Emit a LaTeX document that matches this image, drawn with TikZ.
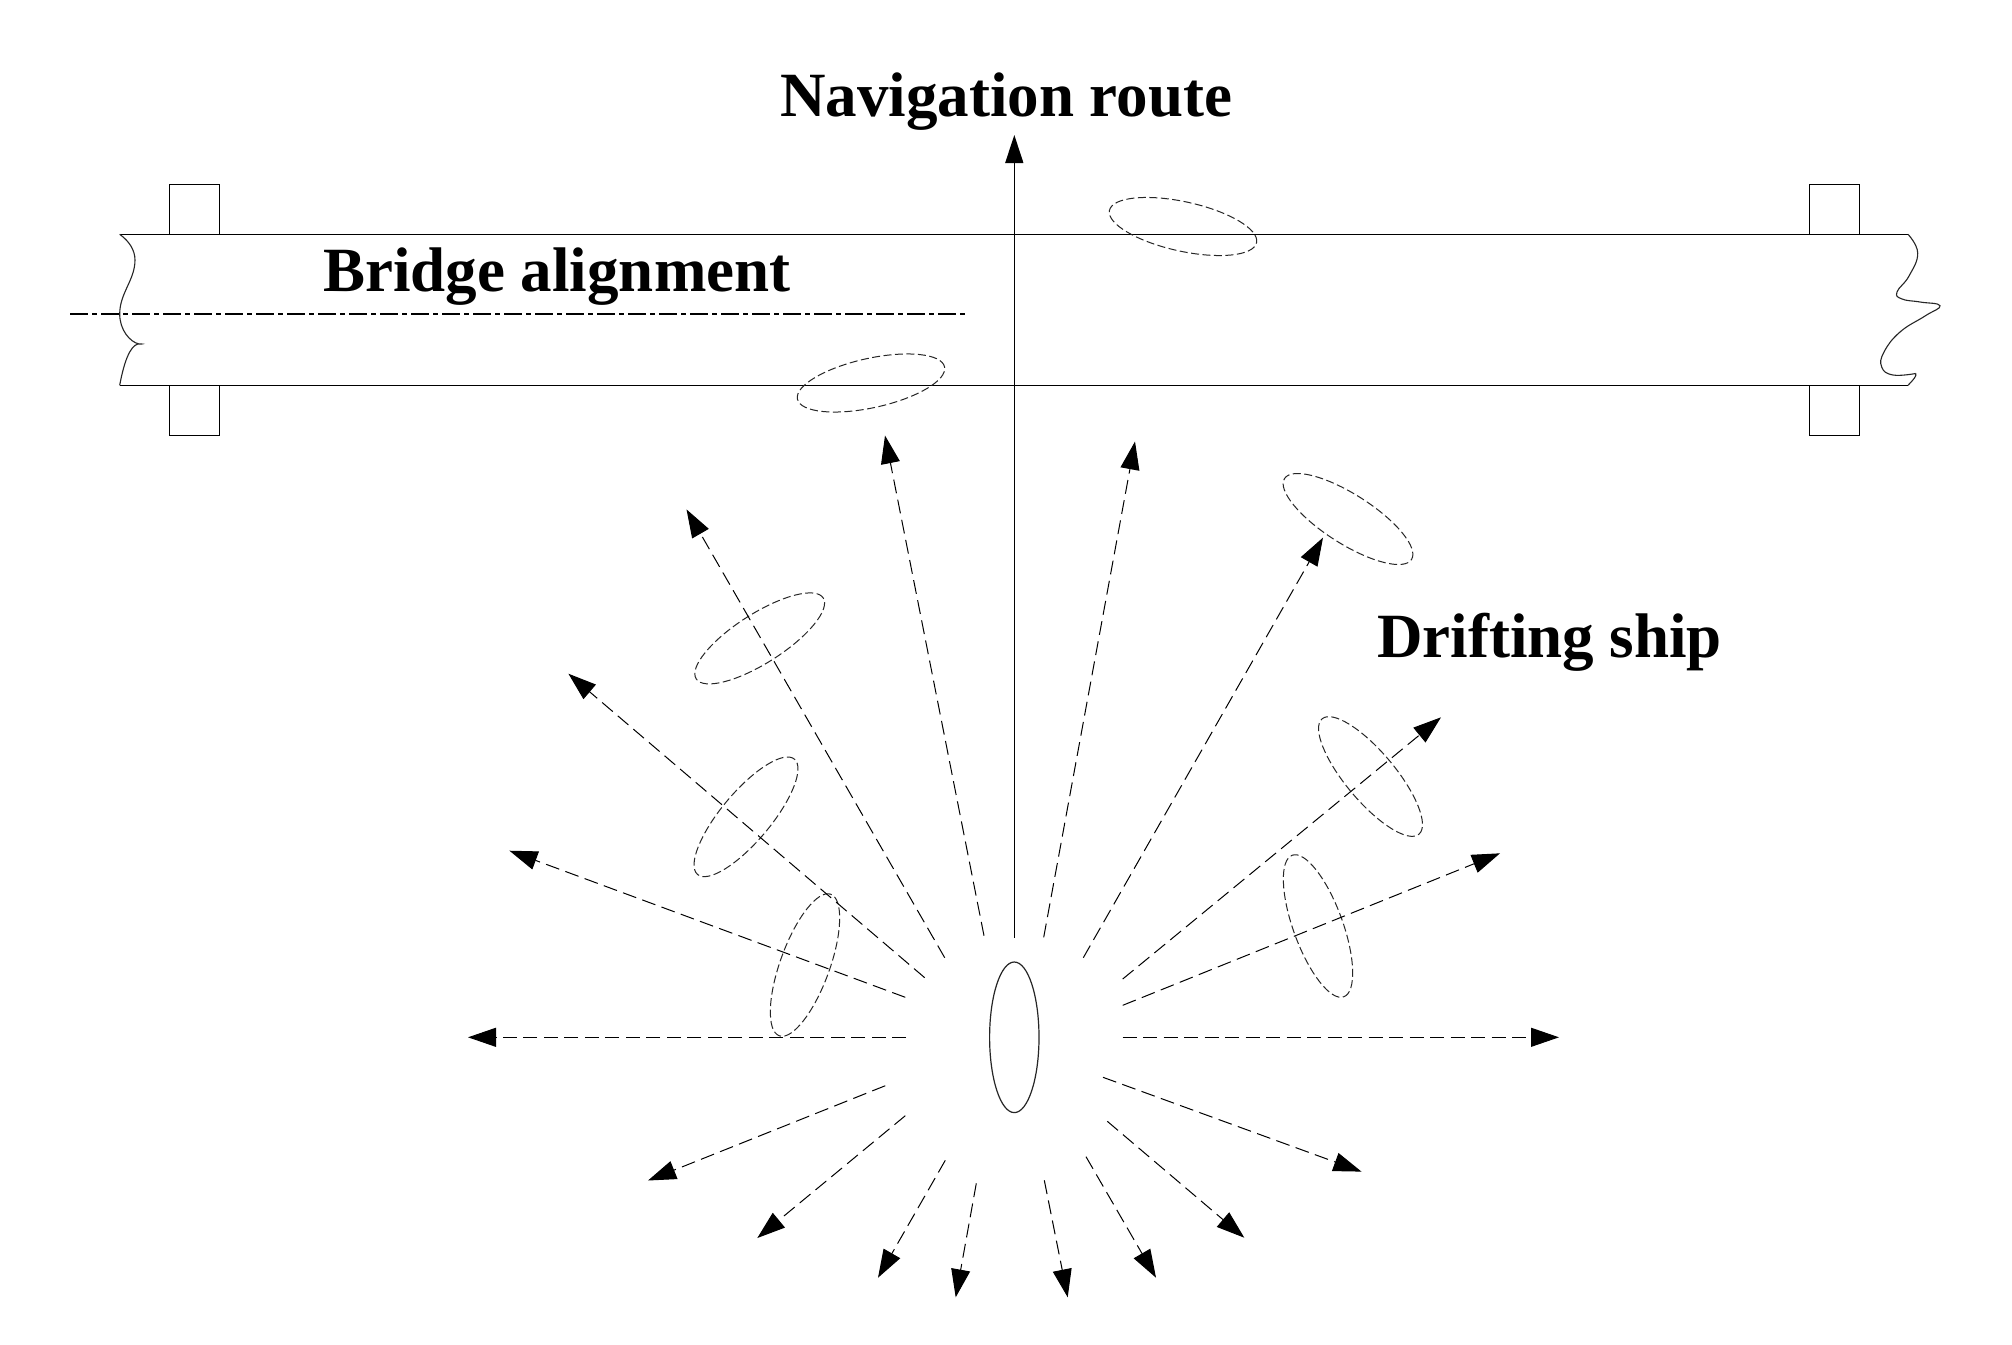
\documentclass[tikz,border=0pt]{standalone}
\usepackage{fontspec}
\setmainfont{Liberation Serif}
\usetikzlibrary{arrows.meta,shapes.geometric}
\tikzset{
  lbl/.style={font=\bfseries\fontsize{63}{70}\selectfont,anchor=base west,inner sep=0pt,text=black},
  bridgeline/.style={line width=1.3pt,draw=black},
  pier/.style={line width=1.3pt,draw=black},
  breakline/.style={line width=1.1pt,draw=black!85,smooth,tension=0.75},
  axisline/.style={line width=1.1pt,draw=black,dash pattern=on 18pt off 4pt on 5pt off 4pt},
  route/.style={line width=1.3pt,draw=black,-{Triangle[length=28pt,width=18pt]}},
  drift/.style={line width=1pt,draw=black,dash pattern=on 14pt off 6.5pt,-{Triangle[length=28pt,width=19pt]}},
  ship/.style={ellipse,draw=black!85,line width=1.2pt,inner sep=0pt,minimum width=150.6pt,minimum height=49.4pt},
  ghost/.style={ship,draw=black!85,line width=1pt,dash pattern=on 8pt off 3.5pt},
}
\begin{document}
\begin{tikzpicture}[x=1pt,y=-1pt]
\useasboundingbox (0,0) rectangle (2012,1344);
\fill[white] (0,0) rectangle (2012,1344);
% bridge
\coordinate (tl) at (119.7,234.3);
\coordinate (tr) at (1908,234.3);
\coordinate (bl) at (119.7,385.3);
\coordinate (br) at (1908,385.3);
\draw[bridgeline] (tl) -- (tr);
\draw[bridgeline] (bl) -- (br);
\draw[pier] (169.3,234.3) -- (169.3,184.3) -- (219.3,184.3) -- (219.3,234.3);
\draw[pier] (1809.3,234.3) -- (1809.3,184.3) -- (1859.3,184.3) -- (1859.3,234.3);
\draw[pier] (169.3,385.3) -- (169.3,435.3) -- (219.3,435.3) -- (219.3,385.3);
\draw[pier] (1809.3,385.3) -- (1809.3,435.3) -- (1859.3,435.3) -- (1859.3,385.3);
% broken ends
\draw[line width=1.1pt,draw=black!85] (tl) .. controls (129,241) and (135,250) .. (135,260)
  .. controls (135,280) and (119.7,293) .. (119.7,314)
  .. controls (119.7,330) and (130,342) .. (139,344)
  .. controls (143,344.5) and (143,343.5) .. (138,344)
  .. controls (130,346) and (124,362) .. (bl);
\draw[breakline] plot coordinates {(1908,234.3) (1917.7,253) (1909,276) (1897,292) (1902,299) (1920,302) (1940,305.7) (1925,316) (1900,332) (1884,352) (1881.7,367) (1893,375) (1915.7,373.5)};
\draw[line width=1.1pt,draw=black!85] (1915.7,373.5) .. controls (1917,376) and (1913,380) .. (br);
\coordinate (axisL) at (70,314);
\coordinate (axisR) at (965,314);
\draw[axisline] (axisL) -- (axisR);
% labels
\node[lbl] (navlabel) at (780,116) {Navigation route};
\node[lbl] (bridgelabel) at (323,291) {Bridge alignment};
\node[lbl] (driftlabel) at (1377,657) {Drifting ship};
% central ship
\node[ship,rotate=90] (s0) at (1014.3,1037.3) {};
% ghost ships
\node[ghost,rotate=-12.4] (g1) at (1183,226.5) {};
\node[ghost,rotate=12.4] (g2) at (871,383) {};
\node[ghost,rotate=-32.5] (g3) at (1348,519) {};
\node[ghost,rotate=32.5] (g4) at (759.7,638.4) {};
\node[ghost,rotate=50] (g5) at (746,816.8) {};
\node[ghost,rotate=70] (g6) at (805,965) {};
\node[ghost,rotate=-50] (g7) at (1370.5,776.5) {};
\node[ghost,rotate=-70] (g8) at (1318,926) {};
% route
\coordinate (r0) at (1014.3,937.7);
\coordinate (r1) at (1014.3,135);
\draw[route] (r0) -- (r1);
% drift start/end coordinates
\coordinate (a1) at (906,1037.3);     \coordinate (b1) at (468,1037.3);
\coordinate (a2) at (1122.7,1037.3);  \coordinate (b2) at (1559,1037.3);
\coordinate (a3) at (905.3,997.3);    \coordinate (b3) at (509.4,850.7);
\coordinate (a4) at (924.7,977.7);    \coordinate (b4) at (568.4,673.7);
\coordinate (a5) at (944.7,957.7);    \coordinate (b5) at (686.5,509.4);
\coordinate (a6) at (984,935.7);      \coordinate (b6) at (885,435.5);
\coordinate (a7) at (1043.7,937.3);   \coordinate (b7) at (1135,441.5);
\coordinate (a8) at (1083.3,957.7);   \coordinate (b8) at (1323,537.6);
\coordinate (a9) at (1122.7,979);     \coordinate (b9) at (1441,717.3);
\coordinate (a10) at (1122.7,1005.3); \coordinate (b10) at (1500,853.3);
\coordinate (a11) at (1103,1077.3);   \coordinate (b11) at (1361.5,1171.6);
\coordinate (a12) at (1107.3,1121.3); \coordinate (b12) at (1244.3,1237.7);
\coordinate (a13) at (1086,1156.7);   \coordinate (b13) at (1156,1277.7);
\coordinate (a14) at (1044.3,1180.3); \coordinate (b14) at (1067.7,1297.3);
\coordinate (a15) at (976.3,1183.3);  \coordinate (b15) at (955.7,1297.3);
\coordinate (a16) at (945.3,1160.3);  \coordinate (b16) at (878,1277.7);
\coordinate (a17) at (905.3,1115.7);  \coordinate (b17) at (757.3,1238);
\coordinate (a18) at (885.3,1085.7);  \coordinate (b18) at (648,1180.5);
\foreach \i in {1,...,18} \draw[drift] (a\i) -- (b\i);
\end{tikzpicture}
\end{document}
